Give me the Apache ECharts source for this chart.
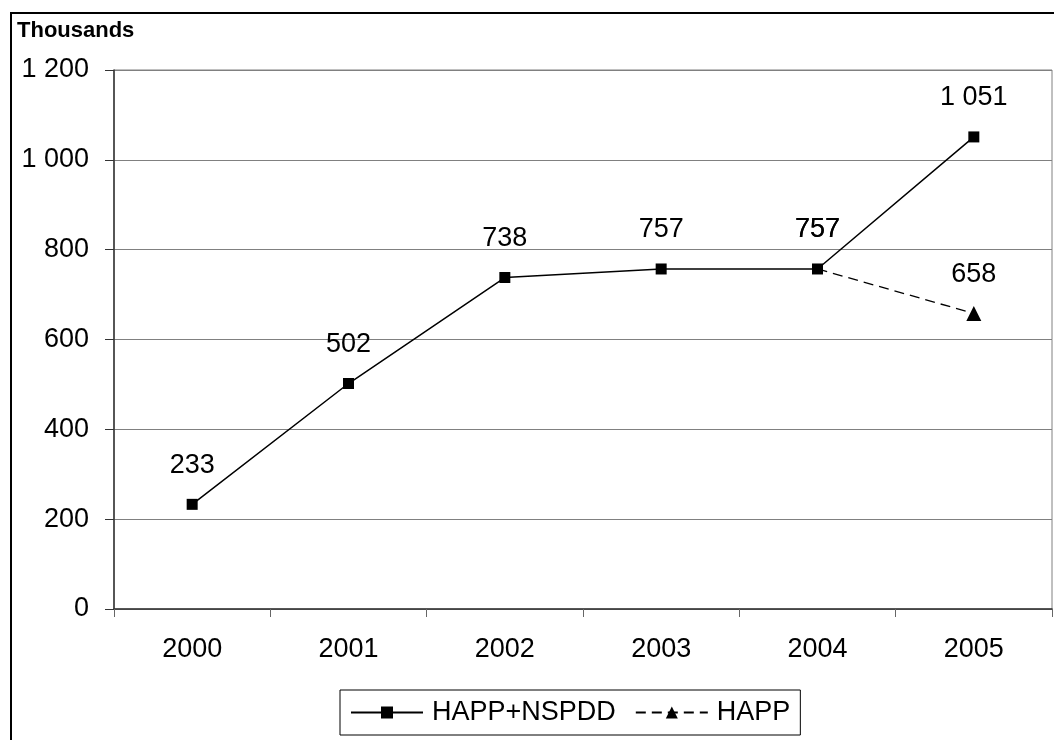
<!DOCTYPE html>
<html>
<head>
<meta charset="utf-8">
<script src="https://cdn.jsdelivr.net/npm/echarts@6/dist/echarts.min.js"></script>
<style>
html,body{margin:0;padding:0;background:#fff;}
#chart{width:1054px;height:740px;}
</style>
</head>
<body>
<div id="chart"></div>
<script>
var years = ['2000','2001','2002','2003','2004','2005'];
var happNspdd = [233, 502, 738, 757, 757, 1051];
var happ = [null, null, null, null, 757, 658];
var yTicks = [0, 200, 400, 600, 800, 1000, 1200];

function fmt(v){
  var s = String(Math.round(v));
  return s.replace(/\B(?=(\d{3})+(?!\d))/g, ' ');
}

var chart = echarts.init(document.getElementById('chart'));
var font = 'Liberation Sans, Arial, sans-serif';
chart.setOption({
  animation: false,
  backgroundColor: '#fff',
  textStyle: {fontFamily: font},
  graphic: [
    {type: 'rect', shape: {x: 11, y: 13, width: 1200, height: 900},
     style: {fill: 'none', stroke: '#000', lineWidth: 2}, z: 100},
    {type: 'text', left: 17, top: 20,
     style: {text: 'Thousands', font: 'bold 22px ' + font, fill: '#000'}}
  ],
  grid: {left: 114, right: 2, top: 70, bottom: 131, show: true, borderColor: '#808080', borderWidth: 1},
  legend: {
    bottom: 5, left: 340,
    data: [
      {name: 'HAPP+NSPDD', itemStyle: {color: '#000'}},
      {name: 'HAPP', itemStyle: {color: '#000'}}
    ],
    itemWidth: 72, itemHeight: 15, itemGap: 19,
    borderColor: '#000', borderWidth: 1, borderRadius: 0,
    padding: [9, 10, 9, 10],
    textStyle: {fontSize: 27, color: '#000', fontFamily: font, padding: [0, 0, 0, 4]}
  },
  xAxis: {
    type: 'category', data: years, boundaryGap: true,
    axisLine: {lineStyle: {color: '#333', width: 1.5}},
    axisTick: {show: true, length: 8, lineStyle: {color: '#666'}},
    axisLabel: {fontSize: 27, color: '#000', margin: 27}
  },
  yAxis: {
    type: 'value', min: 0, max: 1200, interval: 200,
    axisLine: {show: true, lineStyle: {color: '#333', width: 1.5}},
    axisTick: {show: true, length: 9, lineStyle: {color: '#333'}},
    splitLine: {lineStyle: {color: '#808080', width: 1}},
    axisLabel: {fontSize: 27, color: '#000', margin: 25, formatter: fmt}
  },
  series: [
    {
      name: 'HAPP', type: 'line', data: happ, connectNulls: false,
      symbol: 'triangle', symbolSize: 15,
      lineStyle: {color: '#000', width: 1.3, type: [10, 6]},
      itemStyle: {color: function(p){ return happNspdd[p.dataIndex] === p.value ? 'rgba(0,0,0,0)' : '#000'; }},
      label: {show: true, position: 'top', distance: 18, fontSize: 27, color: '#000', formatter: function(p){return fmt(p.value);}},
      z: 2
    },
    {
      name: 'HAPP+NSPDD', type: 'line', data: happNspdd,
      symbol: 'rect', symbolSize: 11,
      lineStyle: {color: '#000', width: 1.5},
      itemStyle: {color: '#000'},
      label: {show: true, position: 'top', distance: 20, fontSize: 27, color: '#000', formatter: function(p){return fmt(p.value);}},
      z: 3
    }
  ]
});
</script>
</body>
</html>
